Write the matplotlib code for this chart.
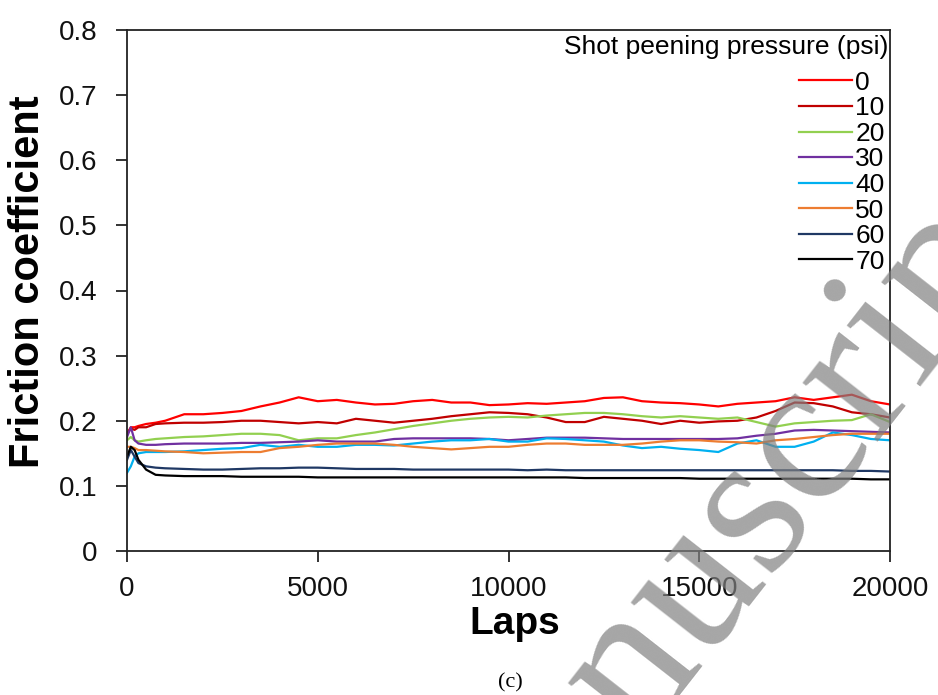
import matplotlib
matplotlib.use("Agg")
import matplotlib.pyplot as plt
from matplotlib.ticker import FuncFormatter

plt.rcParams['font.family'] = ['Liberation Sans', 'DejaVu Sans']

LAPS = [0, 100, 200, 300, 500, 750, 1000, 1500, 2000, 2500, 3000, 3500, 4000, 4500,
        5000, 5500, 6000, 6500, 7000, 7500, 8000, 8500, 9000, 9500, 10000, 10500,
        11000, 11500, 12000, 12500, 13000, 13500, 14000, 14500, 15000, 15500, 16000,
        16500, 17000, 17500, 18000, 18500, 19000, 19500, 20000]

P0 = [0.180, 0.190, 0.190, 0.192, 0.195, 0.197, 0.200, 0.210, 0.210, 0.212, 0.215, 0.222,
      0.228, 0.236, 0.230, 0.232, 0.228, 0.225, 0.226, 0.230, 0.232, 0.228, 0.228, 0.224,
      0.225, 0.227, 0.226, 0.228, 0.230, 0.235, 0.236, 0.230, 0.228, 0.227, 0.225, 0.222,
      0.226, 0.228, 0.230, 0.236, 0.232, 0.236, 0.240, 0.230, 0.225]
P10 = [0.180, 0.188, 0.186, 0.190, 0.190, 0.195, 0.196, 0.197, 0.197, 0.198, 0.200, 0.200,
       0.198, 0.196, 0.198, 0.196, 0.203, 0.200, 0.197, 0.200, 0.203, 0.207, 0.210, 0.213,
       0.212, 0.210, 0.205, 0.198, 0.198, 0.206, 0.203, 0.200, 0.195, 0.200, 0.197, 0.199,
       0.200, 0.205, 0.215, 0.228, 0.227, 0.222, 0.213, 0.210, 0.205]
P20 = [0.170, 0.175, 0.170, 0.168, 0.170, 0.172, 0.173, 0.175, 0.176, 0.178, 0.180, 0.180,
       0.178, 0.170, 0.173, 0.173, 0.178, 0.182, 0.187, 0.192, 0.196, 0.200, 0.203, 0.205,
       0.206, 0.205, 0.208, 0.210, 0.212, 0.212, 0.210, 0.207, 0.205, 0.207, 0.205, 0.203,
       0.205, 0.198, 0.191, 0.196, 0.198, 0.200, 0.201, 0.210, 0.198]
P30 = [0.175, 0.190, 0.170, 0.165, 0.163, 0.163, 0.164, 0.165, 0.165, 0.165, 0.166, 0.166,
       0.167, 0.168, 0.170, 0.168, 0.168, 0.168, 0.172, 0.173, 0.173, 0.173, 0.173, 0.172,
       0.170, 0.172, 0.174, 0.174, 0.174, 0.173, 0.172, 0.172, 0.172, 0.172, 0.172, 0.172,
       0.173, 0.177, 0.180, 0.185, 0.186, 0.185, 0.184, 0.183, 0.182]
P40 = [0.120, 0.130, 0.145, 0.150, 0.152, 0.152, 0.152, 0.153, 0.155, 0.157, 0.158, 0.163,
       0.160, 0.163, 0.160, 0.160, 0.163, 0.163, 0.162, 0.165, 0.168, 0.170, 0.170, 0.172,
       0.168, 0.168, 0.173, 0.172, 0.170, 0.168, 0.162, 0.158, 0.160, 0.157, 0.155, 0.152,
       0.165, 0.170, 0.160, 0.160, 0.168, 0.182, 0.178, 0.172, 0.170]
P50 = [0.160, 0.160, 0.158, 0.155, 0.155, 0.154, 0.153, 0.152, 0.150, 0.151, 0.152, 0.152,
       0.158, 0.160, 0.163, 0.165, 0.165, 0.165, 0.163, 0.160, 0.158, 0.156, 0.158, 0.160,
       0.160, 0.163, 0.165, 0.165, 0.163, 0.163, 0.163, 0.165, 0.168, 0.170, 0.170, 0.168,
       0.167, 0.165, 0.170, 0.172, 0.175, 0.178, 0.180, 0.180, 0.180]
P60 = [0.140, 0.155, 0.145, 0.135, 0.130, 0.128, 0.127, 0.126, 0.125, 0.125, 0.126, 0.127,
       0.127, 0.128, 0.128, 0.127, 0.126, 0.126, 0.126, 0.125, 0.125, 0.125, 0.125, 0.125,
       0.125, 0.124, 0.125, 0.124, 0.124, 0.124, 0.124, 0.124, 0.124, 0.124, 0.124, 0.124,
       0.124, 0.124, 0.124, 0.124, 0.124, 0.124, 0.123, 0.123, 0.122]
P70 = [0.145, 0.160, 0.155, 0.140, 0.125, 0.117, 0.116, 0.115, 0.115, 0.115, 0.114, 0.114,
       0.114, 0.114, 0.113, 0.113, 0.113, 0.113, 0.113, 0.113, 0.113, 0.113, 0.113, 0.113,
       0.113, 0.113, 0.113, 0.113, 0.112, 0.112, 0.112, 0.112, 0.112, 0.112, 0.111, 0.111,
       0.111, 0.111, 0.111, 0.111, 0.111, 0.111, 0.111, 0.110, 0.110]

SERIES = [P0, P10, P20, P30, P40, P50, P60, P70]
LABELS = ['0', '10', '20', '30', '40', '50', '60', '70']
COLORS = ['#FF0000', '#C00000', '#92D050', '#7030A0', '#00B0F0', '#ED7D31', '#1F3864', '#000000']

X_TICKS = [0, 5000, 10000, 15000, 20000]
Y_TICKS = [0, 0.1, 0.2, 0.3, 0.4, 0.5, 0.6, 0.7, 0.8]

fig = plt.figure(figsize=(9.38, 6.95), dpi=100)
ax = fig.add_axes([127/938, 1 - 551/695, (890-127)/938, (551-30)/695])

for ys, lab, col in zip(SERIES, LABELS, COLORS):
    ax.plot(LAPS, ys, color=col, lw=1.6, label=lab)

ax.set_xlim(0, 20000)
ax.set_ylim(0, 0.8)
ax.set_xticks(X_TICKS)
ax.set_yticks(Y_TICKS)
ax.yaxis.set_major_formatter(FuncFormatter(lambda v, p: '0' if abs(v) < 1e-9 else f'{v:.1f}'))
ax.xaxis.set_major_formatter(FuncFormatter(lambda v, p: f'{int(v)}'))
ax.tick_params(direction='out', length=8, width=1.2, labelsize=20, colors='#111111')
ax.tick_params(axis='y', pad=13)
ax.tick_params(axis='x', pad=10)
for s in ax.spines.values():
    s.set_linewidth(1.3)
    s.set_color('#222222')

ax.set_xlabel('Laps', fontsize=28, fontweight='bold')
ax.xaxis.set_label_coords(0.508, -0.105)
ax.set_ylabel('Friction coefficient', fontsize=30, fontweight='bold')
ax.yaxis.set_label_coords(-0.104, 0.516)

ax.text(0.998, 0.99, 'Shot peening pressure (psi)', transform=ax.transAxes,
        ha='right', va='top', fontsize=19)
leg = ax.legend(loc='upper right', bbox_to_anchor=(0.993, 0.922), frameon=False,
                fontsize=19, handlelength=2.0, handletextpad=0.12,
                labelspacing=0.06, borderpad=0.0, borderaxespad=0.0)

fig.text(0.544, 0.003, '(c)', fontsize=16, family=['Liberation Serif'], ha='center', va='bottom')

fig.text(483/938, 1 - 942/695, 'manuscript', fontsize=150, family=['Liberation Serif'],
         rotation=52, rotation_mode='anchor', ha='left', va='baseline',
         color='#808080', alpha=0.7)

fig.savefig('out.png', dpi=100)
